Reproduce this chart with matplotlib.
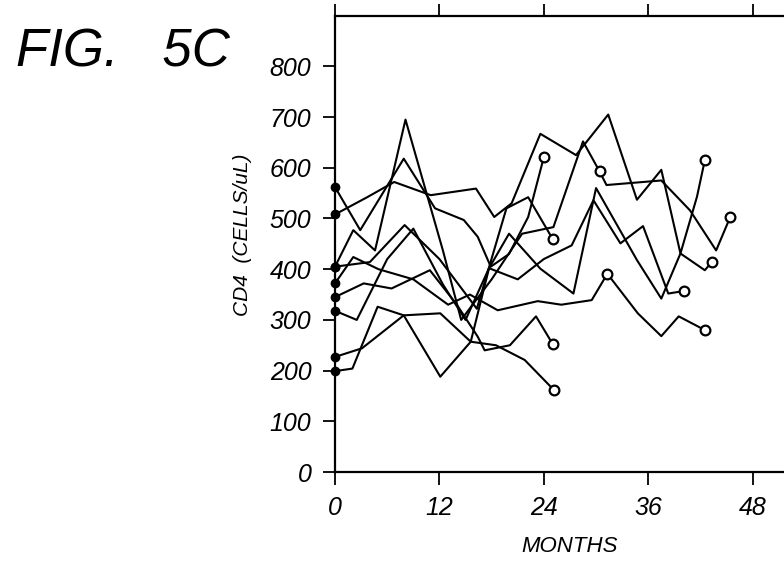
import numpy as np
import matplotlib.pyplot as plt

# CD4 counts (cells/uL) per patient
months = [
    [0, 2.9, 7.9, 11.5, 14.8, 16.4, 17.9, 20.0, 22.2, 24.0],
    [0, 3.7, 6.8, 11.0, 16.2, 18.3, 20.3, 23.6, 27.7, 31.4, 34.7, 37.5, 39.7, 41.6, 42.5],
    [0, 2.1, 4.6, 8.1, 12.4, 14.5, 18.0, 21.5, 25.1, 28.5, 30.4, 31.2, 37.5, 40.8, 43.8, 45.4],
    [0, 4.0, 8.0, 12.0, 16.3, 19.7, 22.2, 25.0],
    [0, 2.1, 5.0, 9.0, 13.0, 15.5, 18.7, 23.3, 26.0, 29.5, 31.3, 34.8, 37.5, 39.5, 42.5],
    [0, 3.3, 6.5, 10.9, 14.0, 16.4, 17.2, 20.1, 23.1, 25.0],
    [0, 3.1, 7.9, 12.1, 15.6, 18.5, 21.8, 25.2],
    [0, 2.0, 4.9, 7.9, 12.1, 15.6, 17.7, 21.0, 24.0, 27.2, 29.7, 32.8, 35.4, 38.3, 40.1],
    [0, 2.5, 6.0, 9.0, 12.4, 15.0, 17.7, 20.0, 23.6, 27.4, 30.0, 34.7, 37.5, 39.7, 42.5, 43.3],
]
cd4 = [
    [562, 477, 618, 520, 497, 464, 405, 430, 503, 621],
    [508, 542, 572, 546, 559, 503, 530, 667, 625, 705, 537, 596, 431, 543, 615],
    [405, 477, 437, 695, 437, 300, 380, 470, 483, 652, 593, 566, 575, 516, 437, 502],
    [405, 414, 487, 420, 322, 520, 542, 460],
    [372, 424, 400, 380, 330, 350, 319, 337, 330, 339, 391, 313, 268, 307, 280],
    [345, 372, 362, 398, 330, 267, 240, 250, 307, 253],
    [227, 244, 309, 313, 257, 250, 221, 161],
    [199, 204, 326, 309, 188, 257, 402, 380, 420, 447, 536, 451, 485, 352, 357],
    [318, 300, 420, 480, 370, 300, 402, 470, 401, 352, 560, 418, 342, 431, 398, 414],
]
# points drawn as open circles (index into each series)
open_pts = [[9], [14], [10, 15], [7], [10, 14], [9], [7], [14], [15]]

xticks = [0, 12, 24, 36, 48]
yticks = [0, 100, 200, 300, 400, 500, 600, 700, 800]

lab = dict(family=['Liberation Sans Narrow', 'Liberation Sans', 'DejaVu Sans'], style='italic')

fig = plt.figure(figsize=(7.84, 5.62), dpi=100)
ax = fig.add_axes([0.4273, 0.1601, 0.5727, 0.812])

for m, v, op in zip(months, cd4, open_pts):
    ax.plot(m, v, '-', color='black', lw=1.5)
    ax.plot(m[0], v[0], 'o', color='black', ms=6, clip_on=False, zorder=5)
    ax.plot(np.array(m)[op], np.array(v)[op], 'o', mfc='white', mec='black',
            ms=7, mew=1.6, zorder=5)

ax.set_xlim(0, 51.6)
ax.set_ylim(0, 900)
ax.set_xticks(xticks)
ax.set_yticks(yticks)
ax.set_xticklabels([str(t) for t in xticks], fontsize=18, **lab)
ax.set_yticklabels([str(t) for t in yticks], fontsize=18, **lab)
ax.tick_params(direction='out', length=9, width=1.3, pad=8, top=True)
ax.spines['right'].set_visible(False)
for s in ['left', 'bottom', 'top']:
    ax.spines[s].set_linewidth(1.6)

ax.set_xlabel('MONTHS', fontsize=16, **lab)
ax.xaxis.set_label_coords(0.523, -0.14)
ax.set_ylabel('CD4  (CELLS/uL)', fontsize=15, **lab)
ax.yaxis.set_label_coords(-0.185, 0.52)

fig.text(0.02, 0.906, 'FIG.   5C', fontsize=38, ha='left', va='center',
         family=['Liberation Sans', 'DejaVu Sans'], style='italic')

fig.savefig('out.png', dpi=100)
